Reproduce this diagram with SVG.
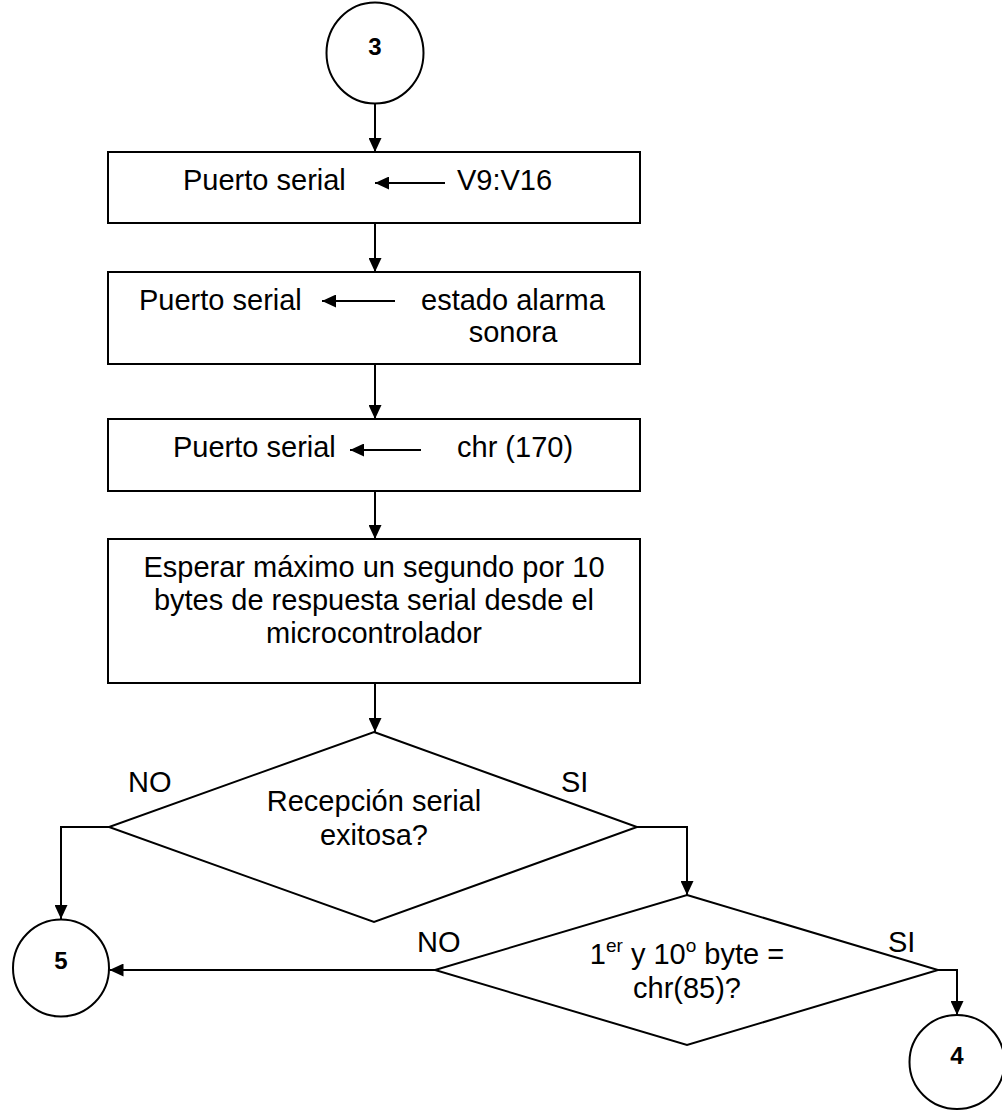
<svg xmlns="http://www.w3.org/2000/svg" width="1002" height="1110" viewBox="0 0 1002 1110">
  <style>
    .shape { fill: #ffffff; stroke: #000000; stroke-width: 2; }
    .line { fill: none; stroke: #000000; stroke-width: 2; }
    .txt { font-family: "Liberation Sans", Arial, sans-serif; font-size: 29px; fill: #000000; }
    .mid { text-anchor: middle; }
    .num { font-family: "Liberation Sans", Arial, sans-serif; font-size: 24px; font-weight: bold; fill: #000000; text-anchor: middle; }
    .sup { font-size: 19px; }
  </style>
  <defs>
    <marker id="arrow" viewBox="0 0 14 13" refX="14" refY="6.5" markerWidth="14" markerHeight="13" markerUnits="userSpaceOnUse" orient="auto">
      <path d="M0,0 L14,6.5 L0,13 Z" fill="#000000"/>
    </marker>
  </defs>

  <rect width="1002" height="1110" fill="#ffffff"/>

  <!-- connectors between the flow steps -->
  <g id="connectors">
    <line class="line" x1="375" y1="103.5" x2="375" y2="152" marker-end="url(#arrow)"/>
    <line class="line" x1="375" y1="223" x2="375" y2="272" marker-end="url(#arrow)"/>
    <line class="line" x1="375" y1="364" x2="375" y2="419" marker-end="url(#arrow)"/>
    <line class="line" x1="375" y1="491" x2="375" y2="539" marker-end="url(#arrow)"/>
    <line class="line" x1="375" y1="683" x2="375" y2="732" marker-end="url(#arrow)"/>
    <!-- first decision: NO -> connector 5, SI -> second decision -->
    <polyline class="line" points="109,827 61,827 61,919" marker-end="url(#arrow)"/>
    <polyline class="line" points="637,827 687,827 687,895" marker-end="url(#arrow)"/>
    <!-- second decision: NO -> connector 5, SI -> connector 4 -->
    <line class="line" x1="435" y1="970" x2="109.5" y2="970" marker-end="url(#arrow)"/>
    <polyline class="line" points="938,970 957,970 957,1015" marker-end="url(#arrow)"/>
  </g>

  <!-- off-page connector 3 -->
  <g id="conn-3">
    <ellipse class="shape" cx="375" cy="53" rx="48.5" ry="50.5"/>
    <text class="num" x="375" y="55">3</text>
  </g>

  <!-- send V9:V16 -->
  <g id="send-v9-v16">
    <rect class="shape" x="108" y="152" width="532" height="71"/>
    <text class="txt" x="183" y="190">Puerto serial</text>
    <line class="line" x1="445" y1="183" x2="375" y2="183" marker-end="url(#arrow)"/>
    <text class="txt" x="457" y="190">V9:V16</text>
  </g>

  <!-- send buzzer state -->
  <g id="send-alarm">
    <rect class="shape" x="108" y="272" width="532" height="92"/>
    <text class="txt" x="139" y="310">Puerto serial</text>
    <line class="line" x1="395" y1="301" x2="322" y2="301" marker-end="url(#arrow)"/>
    <text class="txt" x="421" y="310">estado alarma</text>
    <text class="txt mid" x="513" y="342">sonora</text>
  </g>

  <!-- send chr(170) -->
  <g id="send-chr170">
    <rect class="shape" x="108" y="419" width="532" height="72"/>
    <text class="txt" x="173" y="457">Puerto serial</text>
    <line class="line" x1="421" y1="450" x2="350" y2="450" marker-end="url(#arrow)"/>
    <text class="txt" x="457" y="457">chr (170)</text>
  </g>

  <!-- wait for reply -->
  <g id="wait-reply">
    <rect class="shape" x="108" y="539" width="532" height="144"/>
    <text class="txt mid" x="374" y="577">Esperar máximo un segundo por 10</text>
    <text class="txt mid" x="374" y="610">bytes de respuesta serial desde el</text>
    <text class="txt mid" x="374" y="643">microcontrolador</text>
  </g>

  <!-- decision: reception ok? -->
  <g id="check-reception">
    <polygon class="shape" points="374,732 637,827 374,922 109,827"/>
    <text class="txt mid" x="374" y="811">Recepción serial</text>
    <text class="txt mid" x="374" y="845">exitosa?</text>
    <text class="txt" x="128" y="792">NO</text>
    <text class="txt" x="561" y="792">SI</text>
  </g>

  <!-- decision: frame markers -->
  <g id="check-frame">
    <polygon class="shape" points="687,895 938,970 687,1045 435,970"/>
    <text class="txt mid" x="687" y="964">1<tspan class="sup" dy="-12">er</tspan><tspan dy="12"> y 10</tspan><tspan class="sup" dy="-12">o</tspan><tspan dy="12"> byte =</tspan></text>
    <text class="txt mid" x="687" y="998">chr(85)?</text>
    <text class="txt" x="417" y="952">NO</text>
    <text class="txt" x="888" y="952">SI</text>
  </g>

  <!-- off-page connector 5 -->
  <g id="conn-5">
    <ellipse class="shape" cx="61" cy="968" rx="48" ry="48.5"/>
    <text class="num" x="61" y="969">5</text>
  </g>

  <!-- off-page connector 4 -->
  <g id="conn-4">
    <ellipse class="shape" cx="957" cy="1062" rx="47.5" ry="47"/>
    <text class="num" x="957" y="1064">4</text>
  </g>
</svg>
